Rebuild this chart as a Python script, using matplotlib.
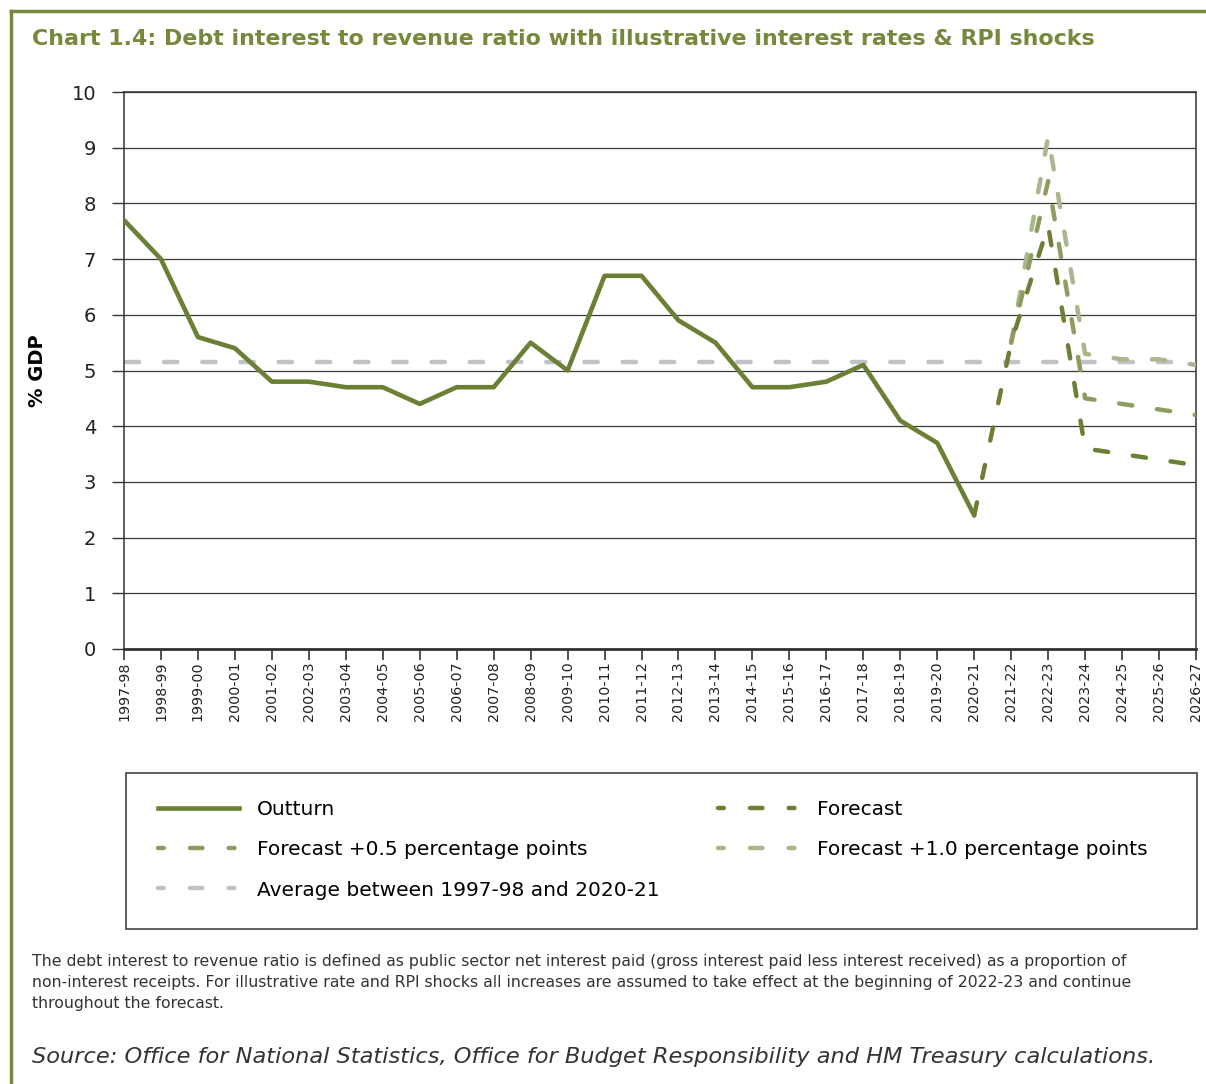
import matplotlib.pyplot as plt
from matplotlib.lines import Line2D
from matplotlib.patches import Rectangle

# financial years shown on the x axis
years = ['1997-98', '1998-99', '1999-00', '2000-01', '2001-02', '2002-03', '2003-04',
         '2004-05', '2005-06', '2006-07', '2007-08', '2008-09', '2009-10', '2010-11',
         '2011-12', '2012-13', '2013-14', '2014-15', '2015-16', '2016-17', '2017-18',
         '2018-19', '2019-20', '2020-21', '2021-22', '2022-23', '2023-24', '2024-25',
         '2025-26', '2026-27']

outturn = [7.7, 7.0, 5.6, 5.4, 4.8, 4.8, 4.7, 4.7, 4.4, 4.7, 4.7, 5.5, 5.0, 6.7,
           6.7, 5.9, 5.5, 4.7, 4.7, 4.8, 5.1, 4.1, 3.7, 2.4]
forecast_years = years[23:]
forecast = [2.4, 5.5, 7.6, 3.6, 3.5, 3.4, 3.3]
shock_years = years[24:]
forecast_05 = [5.5, 8.4, 4.5, 4.4, 4.3, 4.2]
forecast_10 = [5.5, 9.2, 5.3, 5.2, 5.2, 5.1]
average = 5.15

green = '#6b7f35'
mid_green = '#8d9d60'
light_green = '#aab68b'
grey = '#c2c2c6'
title_green = '#76883a'

fig = plt.figure(figsize=(12.06, 10.84), dpi=100)
ax = fig.add_axes([124 / 1206, 1 - 649 / 1084, (1196 - 124) / 1206, (649 - 92) / 1084])

x_all = list(range(len(years)))
idx = {y: i for i, y in enumerate(years)}

dash = dict(linestyle=(0, (3.0, 5.6)), dash_capstyle='round', lw=3.2)

ax.plot(x_all, [average] * len(years), color=grey, lw=3.2, dash_capstyle='round',
        linestyle=(-9, (3.0, 5.6)), zorder=2)
ax.plot([idx[y] for y in shock_years], forecast_10, color=light_green, **dash, zorder=3)
ax.plot([idx[y] for y in shock_years], forecast_05, color=mid_green, **dash, zorder=4)
ax.plot([idx[y] for y in forecast_years], forecast, color=green, **dash, zorder=5)
ax.plot(x_all[:len(outturn)], outturn, color=green, lw=3.3, solid_capstyle='round', zorder=6)

ax.set_xlim(0, len(years) - 1)
ax.set_ylim(0, 10)
ax.set_yticks(range(0, 11))
ax.set_xticks(x_all)
ax.set_xticklabels(years, rotation=90, fontsize=10.3)
ax.tick_params(axis='y', labelsize=14, length=9, width=1, color='#333333', pad=11,
               labelcolor='#222222')
ax.tick_params(axis='x', length=8, width=1.2, color='#333333', pad=1, labelcolor='#222222')
ax.grid(axis='y', color='#3a3a3a', lw=0.9, zorder=1)
for s in ax.spines.values():
    s.set_color('#333333')
    s.set_linewidth(1.1)
ax.spines['bottom'].set_linewidth(2)
ax.set_ylabel('% GDP', fontsize=14, fontweight='bold', labelpad=18)

# legend: dot - dash - dot handles
leg_dash = dict(linestyle=(0, (1.3, 5.9, 2.8, 5.9)), dash_capstyle='round', lw=3.2)
h_out = Line2D([], [], color=green, lw=3.3)
h_fc = Line2D([], [], color=green, **leg_dash)
h_05 = Line2D([], [], color=mid_green, **leg_dash)
h_10 = Line2D([], [], color=light_green, **leg_dash)
h_avg = Line2D([], [], color=grey, **leg_dash)
leg = fig.legend([h_out, h_05, h_avg, h_fc, h_10],
                 ['Outturn', 'Forecast +0.5 percentage points', 'Average between 1997-98 and 2020-21',
                  'Forecast', 'Forecast +1.0 percentage points'],
                 loc='upper left', ncol=2, mode='expand',
                 bbox_to_anchor=(126 / 1206, 1 - 768 / 1084, (1180 - 126) / 1206, 0.0),
                 borderaxespad=0, fontsize=14.5, handlelength=4.0, handletextpad=0.9,
                 labelspacing=1.05, borderpad=1.6, frameon=False)
fig.add_artist(Rectangle((126 / 1206, 1 - 929 / 1084), (1197 - 126) / 1206, (929 - 773) / 1084,
                         transform=fig.transFigure, fill=False, edgecolor='#333333', lw=1.1))

# page frame lines
fig.add_artist(Line2D([11 / 1206, 1], [1 - 11 / 1084, 1 - 11 / 1084], color=title_green, lw=2.5))
fig.add_artist(Line2D([11 / 1206, 11 / 1206], [0, 1 - 11 / 1084], color=title_green, lw=2.5))

fig.text(32 / 1206, 1 - 39 / 1084,
         'Chart 1.4: Debt interest to revenue ratio with illustrative interest rates & RPI shocks',
         color=title_green, fontsize=15.9, fontweight='bold', va='center')

fig.text(32 / 1206, 1 - 954 / 1084,
         'The debt interest to revenue ratio is defined as public sector net interest paid (gross interest paid less interest received) as a proportion of\n'
         'non-interest receipts. For illustrative rate and RPI shocks all increases are assumed to take effect at the beginning of 2022-23 and continue\n'
         'throughout the forecast.',
         fontsize=11.3, color='#333333', va='top', linespacing=1.5)

fig.text(32 / 1206, 1 - 1057 / 1084,
         'Source: Office for National Statistics, Office for Budget Responsibility and HM Treasury calculations.',
         fontsize=16.2, style='italic', color='#333333', va='center')

fig.savefig('out.png', dpi=100)
